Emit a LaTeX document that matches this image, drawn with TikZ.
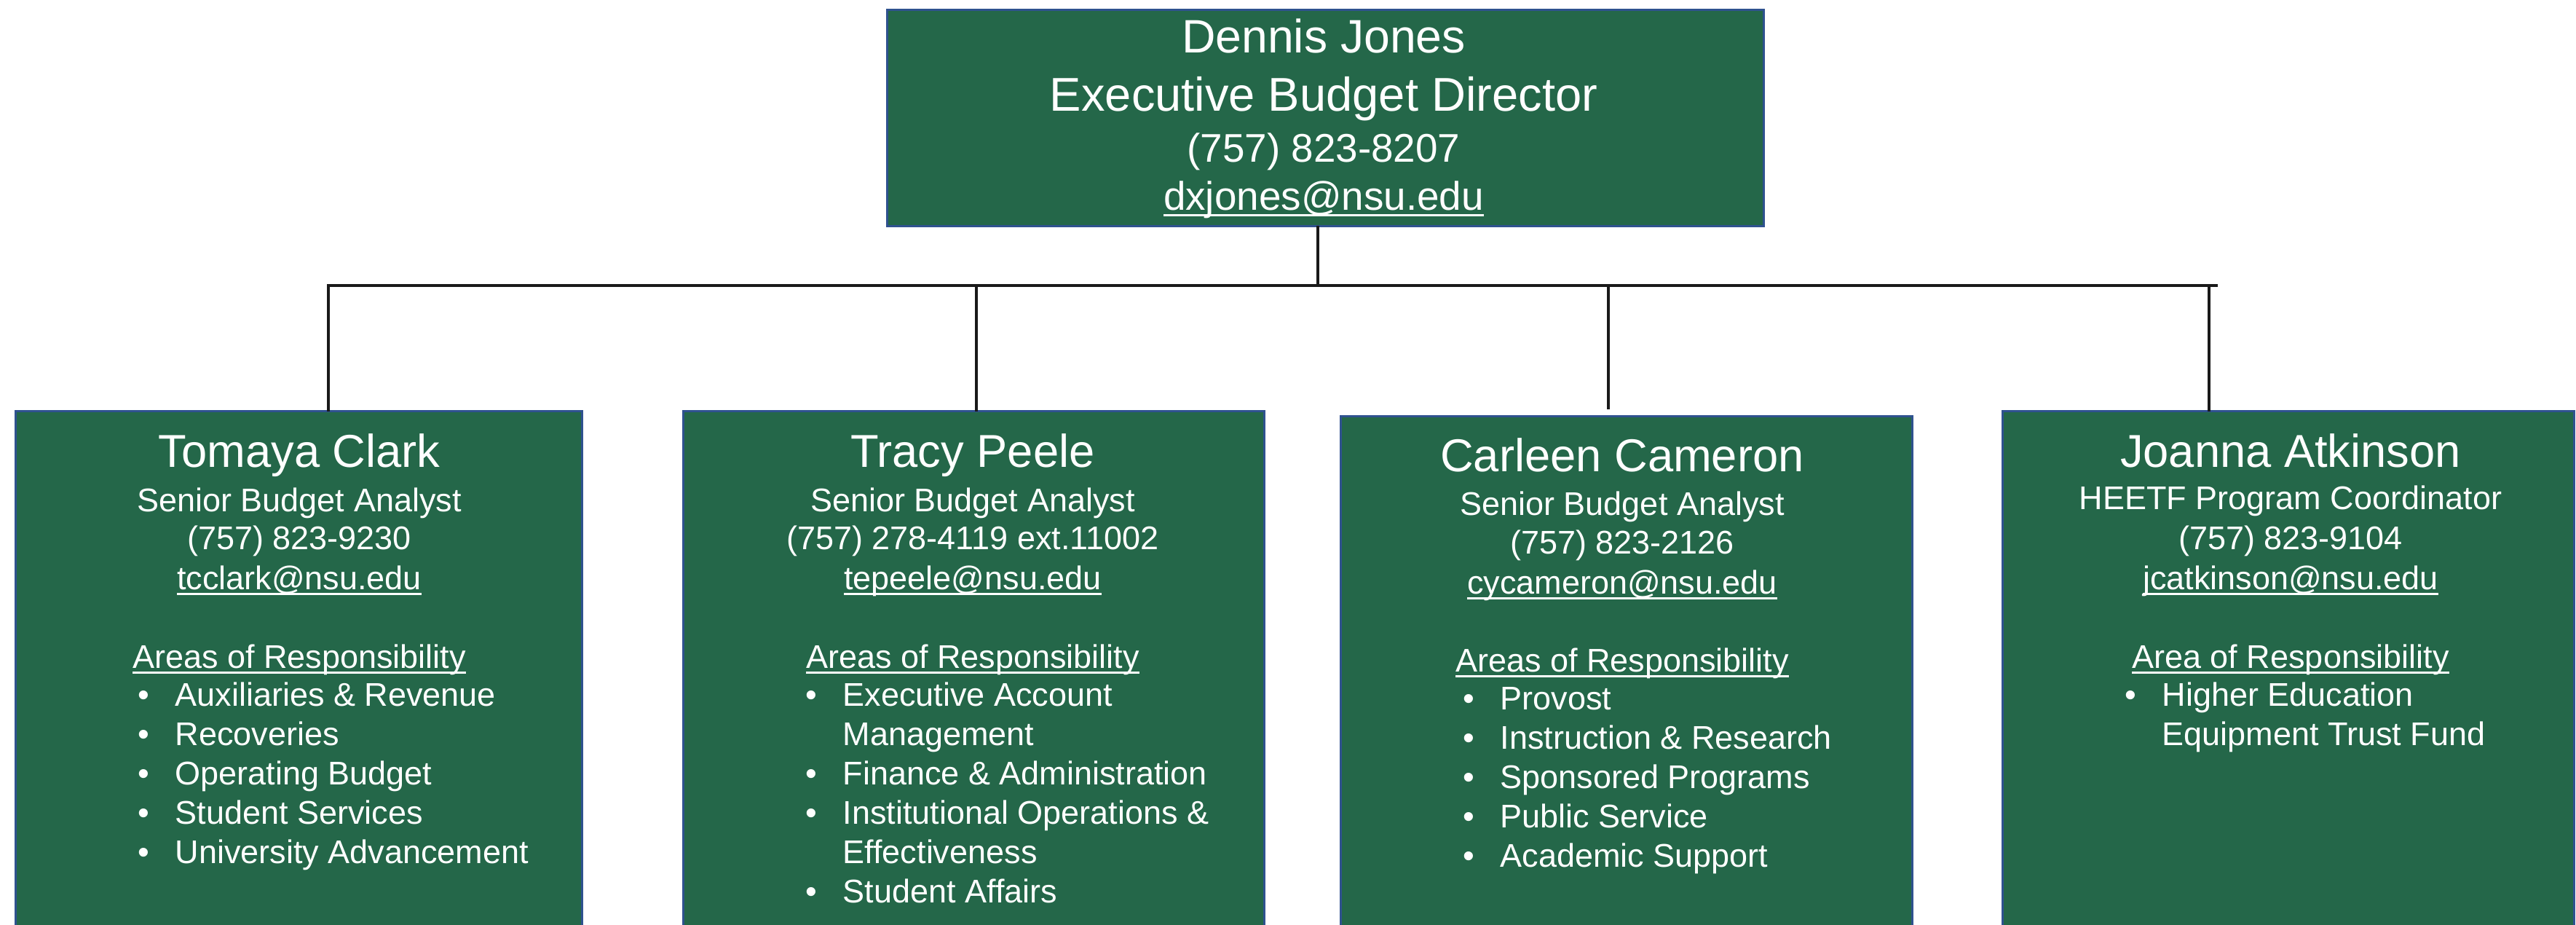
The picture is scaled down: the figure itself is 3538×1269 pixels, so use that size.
\documentclass[tikz,border=0pt]{standalone}
\usepackage{fontspec}
\setmainfont{Liberation Sans}
\usetikzlibrary{calc}
\definecolor{boxgreen}{RGB}{36,103,73}
\definecolor{boxedge}{RGB}{47,82,143}
% underline at a fixed depth below the baseline
\newcommand\uln[1]{\setbox0\hbox{#1}\rlap{\rule[-0.17em]{\wd0}{0.055em}}\box0}
% bullet hung to the left of an item
\newcommand\bul{\llap{\makebox[0.51cm][l]{•}}}
\tikzset{
  box/.style={draw=boxedge, line width=0.8pt, fill=boxgreen, inner sep=0pt, anchor=north west},
  txt/.style={text=white, inner sep=0pt, anchor=base},
  nm/.style={txt, font=\fontsize{18}{20}\selectfont},
  bd/.style={txt, font=\fontsize{12.8}{15}\selectfont},
  li/.style={bd, anchor=base west},
  link/.style={line width=1pt, draw=black!90, line cap=rect}
}
\begin{document}
\begin{tikzpicture}[x=0.01cm, y=-0.01cm]
\useasboundingbox (0,0) rectangle (3538,1269);

% boxes
\node[box, minimum width=12.03cm, minimum height=2.97cm] (dir) at (1217,12) {};
\node[box, minimum width=7.78cm, minimum height=7.4cm] (b1) at (20,563) {};
\node[box, minimum width=7.98cm, minimum height=7.4cm] (b2) at (937,563) {};
\node[box, minimum width=7.85cm, minimum height=7.4cm] (b3) at (1840,570) {};
\node[box, minimum width=7.85cm, minimum height=7.4cm] (b4) at (2749,563) {};

% connectors
\coordinate (hub) at (1810,392);
\coordinate (hl) at (451,392);
\coordinate (hr) at (3044,392);
\coordinate (d2) at (1341,392);
\coordinate (d3) at (2209,392);
\coordinate (e3) at (2209,560);
\coordinate (d4) at (3034,392);
\draw[link] (dir.south -| hub) -- (hub);
\draw[link] (hl) -- (hr);
\draw[link] (hl) -- (hl |- b1.north);
\draw[link] (d2) -- (d2 |- b2.north);
\draw[link] (d3) -- (e3);
\draw[link] (d4) -- (d4 |- b4.north);

% director
\node[txt, font=\fontsize{18.3}{20}\selectfont] (dname) at (1818,72) {Dennis Jones};
\node[txt, font=\fontsize{18.5}{21}\selectfont] (dtitle) at (1818,152) {Executive Budget Director};
\node[txt, font=\fontsize{15.6}{18}\selectfont] (dphone) at (1818,222) {(757) 823-8207};
\node[txt, font=\fontsize{15.6}{18}\selectfont] (demail) at (1818,288) {\uln{dxjones@nsu.edu}};

% Tomaya Clark
\node[nm] (b1n) at (411,641) {Tomaya Clark};
\node[bd] (b1t) at (411,702) {Senior Budget Analyst};
\node[bd] (b1p) at (411,754) {(757) 823-9230};
\node[bd] (b1e) at (411,809) {\uln{tcclark@nsu.edu}};
\node[bd] (b1a) at (411,917) {\uln{Areas of Responsibility}};
\foreach \t [count=\i] in {{\bul Auxiliaries \& Revenue},{\bul Recoveries},{\bul Operating Budget},{\bul Student Services},{\bul University Advancement}}
  \node[li] (b1i\i) at (240,{969+54*(\i-1)}) {\t};

% Tracy Peele
\node[nm] (b2n) at (1336,641) {Tracy Peele};
\node[bd] (b2t) at (1336,702) {Senior Budget Analyst};
\node[bd] (b2p) at (1336,754) {(757) 278-4119 ext.11002};
\node[bd] (b2e) at (1336,809) {\uln{tepeele@nsu.edu}};
\node[bd] (b2a) at (1336,917) {\uln{Areas of Responsibility}};
\foreach \t [count=\i] in {{\bul Executive Account},{Management},{\bul Finance \& Administration},{\bul Institutional Operations \&},{Effectiveness},{\bul Student Affairs}}
  \node[li] (b2i\i) at (1157,{969+54*(\i-1)}) {\t};

% Carleen Cameron
\node[nm] (b3n) at (2228,647) {Carleen Cameron};
\node[bd] (b3t) at (2228,707) {Senior Budget Analyst};
\node[bd] (b3p) at (2228,760) {(757) 823-2126};
\node[bd] (b3e) at (2228,815) {\uln{cycameron@nsu.edu}};
\node[bd] (b3a) at (2228,922) {\uln{Areas of Responsibility}};
\foreach \t [count=\i] in {{\bul Provost},{\bul Instruction \& Research},{\bul Sponsored Programs},{\bul Public Service},{\bul Academic Support}}
  \node[li] (b3i\i) at (2060,{974+54*(\i-1)}) {\t};

% Joanna Atkinson
\node[nm] (b4n) at (3146,641) {Joanna Atkinson};
\node[bd] (b4t) at (3146,699) {HEETF Program Coordinator};
\node[bd] (b4p) at (3146,754) {(757) 823-9104};
\node[bd] (b4e) at (3146,809) {\uln{jcatkinson@nsu.edu}};
\node[bd] (b4a) at (3146,917) {\uln{Area of Responsibility}};
\foreach \t [count=\i] in {{\bul Higher Education},{Equipment Trust Fund}}
  \node[li] (b4i\i) at (2969,{969+54*(\i-1)}) {\t};
\end{tikzpicture}
\end{document}
